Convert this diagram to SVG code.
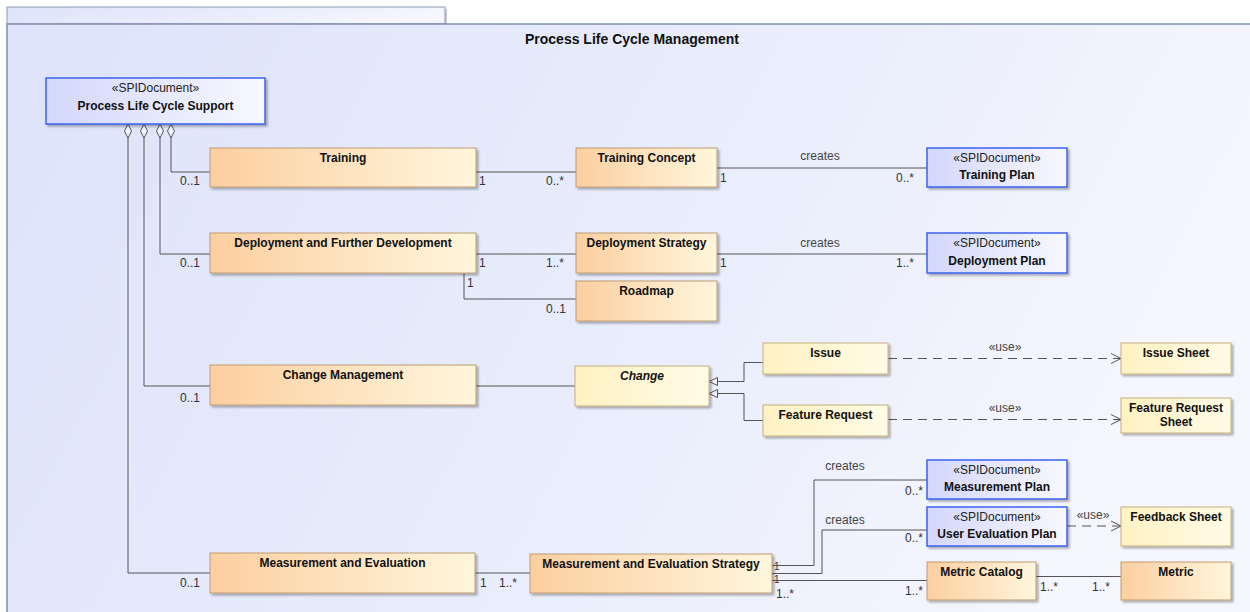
<svg xmlns="http://www.w3.org/2000/svg" width="1250" height="612" viewBox="0 0 1250 612">
  <defs>
    <linearGradient id="frameFill" x1="0" y1="0" x2="1" y2="0.25">
      <stop offset="0" stop-color="#dde3fa"/>
      <stop offset="0.6" stop-color="#e9edfc"/>
      <stop offset="1" stop-color="#f5f6fe"/>
    </linearGradient>
    <linearGradient id="orangeFill" x1="0" y1="0" x2="1" y2="0">
      <stop offset="0" stop-color="#fccfa0"/>
      <stop offset="1" stop-color="#fff6dc"/>
    </linearGradient>
    <linearGradient id="yellowFill" x1="0" y1="0" x2="1" y2="0">
      <stop offset="0" stop-color="#fff2c2"/>
      <stop offset="1" stop-color="#fffbe6"/>
    </linearGradient>
    <linearGradient id="blueFill" x1="0" y1="0" x2="1" y2="0">
      <stop offset="0" stop-color="#d3d7fb"/>
      <stop offset="1" stop-color="#f8f8ff"/>
    </linearGradient>
    <filter id="shadow" x="-10%" y="-10%" width="130%" height="140%">
      <feDropShadow dx="2" dy="2" stdDeviation="0.8" flood-color="#000" flood-opacity="0.3"/>
    </filter>
    <!-- hollow aggregation diamond at the whole end -->
    <marker id="diamond" viewBox="0 0 14 8" refX="0" refY="4" markerWidth="14" markerHeight="8" markerUnits="userSpaceOnUse" orient="auto">
      <path d="M0,4 L7,0.5 L14,4 L7,7.5 Z" fill="#f4f6ff" stroke="#555" stroke-width="1"/>
    </marker>
    <!-- hollow generalization triangle -->
    <marker id="genTri" viewBox="0 0 10 10" refX="9.5" refY="5" markerWidth="10" markerHeight="10" markerUnits="userSpaceOnUse" orient="auto">
      <path d="M9.5,5 L1,1 L1,9 Z" fill="#eef1fd" stroke="#555" stroke-width="1"/>
    </marker>
    <!-- open arrow for dependencies -->
    <marker id="openArrow" viewBox="0 0 12 12" refX="11" refY="6" markerWidth="12" markerHeight="12" markerUnits="userSpaceOnUse" orient="auto">
      <path d="M1,1 L11,6 L1,11" fill="none" stroke="#555" stroke-width="1"/>
    </marker>
  </defs>
  <style>
    text { font-family: "Liberation Sans", Arial, sans-serif; }
    .title { font-size: 14px; font-weight: bold; fill: #111; text-anchor: middle; }
    .name { font-size: 12px; font-weight: bold; fill: #111; text-anchor: middle; }
    .abstract { font-style: italic; }
    .stereo { font-size: 12px; fill: #222; text-anchor: middle; }
    .mult { font-size: 12px; fill: #333; }
    .small { font-size: 10px; }
    .role { font-size: 12px; fill: #444; text-anchor: middle; }
    .orange { fill: url(#orangeFill); stroke: #bf9b74; stroke-width: 1; filter: url(#shadow); }
    .yellow { fill: url(#yellowFill); stroke: #c6ae7e; stroke-width: 1; filter: url(#shadow); }
    .doc { fill: url(#blueFill); stroke: #3d62f0; stroke-width: 1.5; filter: url(#shadow); }
    .line { fill: none; stroke: #555; stroke-width: 1; }
    .agg { marker-start: url(#diamond); }
    .gen { marker-end: url(#genTri); }
    .dep { stroke-dasharray: 9 6; marker-end: url(#openArrow); }
  </style>

  <!-- package frame -->
  <g id="frame">
    <rect x="0" y="0" width="1250" height="612" fill="#ffffff"/>
    <rect x="9" y="9" width="438" height="17" fill="#c8cbd6"/>
    <rect x="7" y="7" width="438" height="17" fill="url(#frameFill)" stroke="#8c9ab6" stroke-width="1"/>
    <rect x="7" y="24" width="1260" height="600" fill="url(#frameFill)"/>
    <path d="M7,612 V24 H1250" fill="none" stroke="#7f8fae" stroke-width="1.5"/>
    <text class="title" x="632" y="44">Process Life Cycle Management</text>
  </g>

  <!-- connectors -->
  <g id="connectors">
    <path class="line agg" d="M171,124 V172 H210"/>
    <path class="line agg" d="M160,124 V254 H210"/>
    <path class="line agg" d="M144,124 V386 H210"/>
    <path class="line agg" d="M128,124 V573 H210"/>

    <path class="line" d="M476,172 H576"/>
    <path class="line" d="M717,168 H927"/>
    <path class="line" d="M476,254 H576"/>
    <path class="line" d="M717,254 H927"/>
    <path class="line" d="M464,273 V299 H576"/>

    <path class="line" d="M476,386 H575"/>
    <path class="line gen" d="M763,362.5 H744 V381.5 H709"/>
    <path class="line gen" d="M763,420.5 H744 V393.5 H709"/>
    <path class="line dep" d="M888,358.5 H1121"/>
    <path class="line dep" d="M888,419.5 H1121"/>

    <path class="line" d="M475,573 H530"/>
    <path class="line" d="M772,565.5 H814 V480 H927"/>
    <path class="line" d="M772,573.5 H822 V530 H927"/>
    <path class="line" d="M772,580.5 H927"/>
    <path class="line dep" d="M1067,526 H1121"/>
    <path class="line" d="M1036,576.5 H1121"/>

    <!-- multiplicities and association names -->
    <text class="mult" x="180" y="185">0..1</text>
    <text class="mult" x="479" y="185">1</text>
    <text class="mult" x="546" y="185">0..*</text>
    <text class="role" x="820" y="160">creates</text>
    <text class="mult" x="720" y="182">1</text>
    <text class="mult" x="896" y="182">0..*</text>

    <text class="mult" x="180" y="267">0..1</text>
    <text class="mult" x="479" y="267">1</text>
    <text class="mult" x="546" y="267">1..*</text>
    <text class="role" x="820" y="247">creates</text>
    <text class="mult" x="720" y="267">1</text>
    <text class="mult" x="896" y="267">1..*</text>
    <text class="mult" x="467" y="287">1</text>
    <text class="mult" x="546" y="313">0..1</text>

    <text class="mult" x="180" y="402">0..1</text>
    <text class="role" x="1005" y="351">«use»</text>
    <text class="role" x="1005" y="412">«use»</text>

    <text class="mult" x="180" y="587">0..1</text>
    <text class="mult" x="480" y="587">1</text>
    <text class="mult" x="499" y="587">1..*</text>
    <text class="role" x="845" y="470">creates</text>
    <text class="mult" x="905" y="495">0..*</text>
    <text class="role" x="845" y="524">creates</text>
    <text class="mult" x="905" y="542">0..*</text>
    <text class="mult small" x="774" y="570">1</text>
    <text class="mult small" x="774" y="583">1</text>
    <text class="mult" x="776" y="598">1..*</text>
    <text class="mult" x="905" y="595">1..*</text>
    <text class="role" x="1093" y="519">«use»</text>
    <text class="mult" x="1040" y="591">1..*</text>
    <text class="mult" x="1092" y="591">1..*</text>
  </g>

  <!-- nodes -->
  <g id="process-life-cycle-support">
    <rect class="doc" x="46" y="78" width="219" height="46"/>
    <text class="stereo" x="155.5" y="92">«SPIDocument»</text>
    <text class="name" x="155.5" y="110">Process Life Cycle Support</text>
  </g>

  <g id="training">
    <rect class="orange" x="210" y="148" width="266" height="39"/>
    <text class="name" x="343" y="162">Training</text>
  </g>
  <g id="deployment-and-further-development">
    <rect class="orange" x="210" y="233" width="266" height="40"/>
    <text class="name" x="343" y="247">Deployment and Further Development</text>
  </g>
  <g id="change-management">
    <rect class="orange" x="210" y="365" width="266" height="40"/>
    <text class="name" x="343" y="379">Change Management</text>
  </g>
  <g id="measurement-and-evaluation">
    <rect class="orange" x="210" y="553" width="265" height="40"/>
    <text class="name" x="342.5" y="567">Measurement and Evaluation</text>
  </g>

  <g id="training-concept">
    <rect class="orange" x="576" y="148" width="141" height="39"/>
    <text class="name" x="646.5" y="162">Training Concept</text>
  </g>
  <g id="deployment-strategy">
    <rect class="orange" x="576" y="233" width="141" height="40"/>
    <text class="name" x="646.5" y="247">Deployment Strategy</text>
  </g>
  <g id="roadmap">
    <rect class="orange" x="576" y="281" width="141" height="40"/>
    <text class="name" x="646.5" y="295">Roadmap</text>
  </g>

  <g id="training-plan">
    <rect class="doc" x="927" y="148" width="140" height="39"/>
    <text class="stereo" x="997" y="162">«SPIDocument»</text>
    <text class="name" x="997" y="179">Training Plan</text>
  </g>
  <g id="deployment-plan">
    <rect class="doc" x="927" y="233" width="140" height="40"/>
    <text class="stereo" x="997" y="247">«SPIDocument»</text>
    <text class="name" x="997" y="265">Deployment Plan</text>
  </g>

  <g id="change">
    <rect class="yellow" x="575" y="366" width="134" height="40"/>
    <text class="name abstract" x="642" y="380">Change</text>
  </g>
  <g id="issue">
    <rect class="yellow" x="763" y="343" width="125" height="31"/>
    <text class="name" x="825.5" y="357">Issue</text>
  </g>
  <g id="feature-request">
    <rect class="yellow" x="763" y="405" width="125" height="31"/>
    <text class="name" x="825.5" y="419">Feature Request</text>
  </g>
  <g id="issue-sheet">
    <rect class="yellow" x="1121" y="343" width="110" height="31"/>
    <text class="name" x="1176" y="357">Issue Sheet</text>
  </g>
  <g id="feature-request-sheet">
    <rect class="yellow" x="1121" y="398" width="110" height="35"/>
    <text class="name" x="1176" y="412">Feature Request</text>
    <text class="name" x="1176" y="426">Sheet</text>
  </g>

  <g id="measurement-and-evaluation-strategy">
    <rect class="orange" x="530" y="554" width="242" height="39"/>
    <text class="name" x="651" y="568">Measurement and Evaluation Strategy</text>
  </g>
  <g id="measurement-plan">
    <rect class="doc" x="927" y="460" width="140" height="39"/>
    <text class="stereo" x="997" y="474">«SPIDocument»</text>
    <text class="name" x="997" y="491">Measurement Plan</text>
  </g>
  <g id="user-evaluation-plan">
    <rect class="doc" x="927" y="507" width="140" height="39"/>
    <text class="stereo" x="997" y="521">«SPIDocument»</text>
    <text class="name" x="997" y="538">User Evaluation Plan</text>
  </g>
  <g id="feedback-sheet">
    <rect class="yellow" x="1121" y="507" width="110" height="39"/>
    <text class="name" x="1176" y="521">Feedback Sheet</text>
  </g>
  <g id="metric-catalog">
    <rect class="orange" x="927" y="562" width="109" height="38"/>
    <text class="name" x="981.5" y="576">Metric Catalog</text>
  </g>
  <g id="metric">
    <rect class="orange" x="1121" y="562" width="110" height="38"/>
    <text class="name" x="1176" y="576">Metric</text>
  </g>
</svg>
